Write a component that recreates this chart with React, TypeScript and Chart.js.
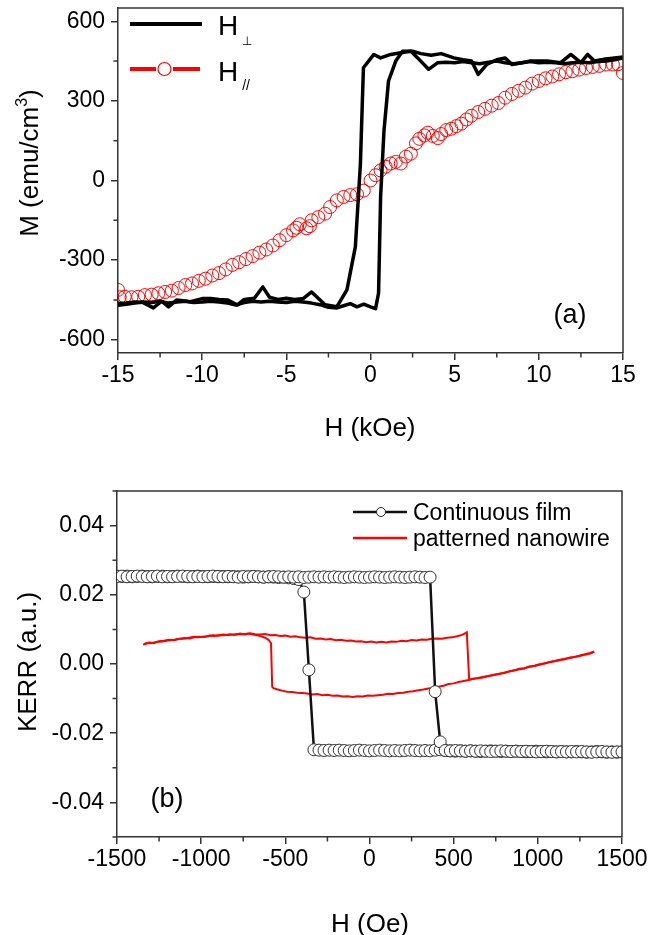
import React, { useEffect, useRef } from "react";
import { Chart, registerables } from "chart.js";

Chart.register(...registerables);

const FONT = '"Liberation Sans", Arial, Helvetica, sans-serif';
const AXIS = "#333";
const RED = "#ff0000";

// ---------- tick labels ----------
const topXTicks = [-15, -10, -5, 0, 5, 10, 15];
const topYTicks = [-600, -300, 0, 300, 600];
const botXTicks = [-1500, -1000, -500, 0, 500, 1000, 1500];
const botYTicks = [-0.04, -0.02, 0, 0.02, 0.04];

// ---------- (a) SQUID M-H loops ----------
const perpDownH = [15, 14.5, 14, 13.5, 13, 12.5, 12, 11.5, 11, 10.5,
  10, 9.5, 9, 8.5, 8, 7.5, 7, 6.5, 6, 5.5,
  5, 4.5, 4, 3.45, 2.8, 2.4, 1.8, 1.2, 0.6, 0.2,
  -0.42, -0.52, -0.6, -0.9, -1.4, -2.0, -2.7, -3.5, -4.0, -4.5,
  -5, -5.5, -6, -6.4, -6.9, -7.5, -7.9, -8.5, -9, -9.5,
  -10, -10.7, -11.5, -12, -12.4, -12.9, -13.5, -14, -14.5, -15];
const perpDownM = [462, 455, 450, 448, 444, 446, 444, 440, 444, 446,
  444, 448, 444, 440, 444, 450, 446, 440, 444, 448,
  444, 446, 444, 419, 462, 487, 481, 475, 462, 475,
  425, 225, 62, -250, -412, -476, -468, -420, -445, -448,
  -444, -448, -440, -401, -444, -448, -469, -450, -448, -445,
  -445, -457, -450, -476, -455, -480, -460, -458, -462, -463];

const perpUpH = [-15, -14.5, -14, -13.5, -13, -12.5, -12, -11.5, -11, -10.5,
  -10, -9.5, -9, -8.5, -8, -7.5, -7, -6.5, -6, -5.5,
  -5, -4.5, -4, -3.5, -3, -2.5, -2, -1.6, -1.2, -0.8,
  -0.4, 0, 0.3, 0.48, 0.6, 0.8, 1.07, 1.5, 1.9, 2.5,
  3.0, 3.6, 4.2, 4.95, 5.5, 6.0, 6.4, 6.9, 7.5, 8.0,
  8.4, 9.0, 9.5, 10.5, 11.3, 11.9, 12.5, 12.9, 13.3, 14.0,
  14.5, 15];
const perpUpM = [-470, -466, -462, -458, -460, -455, -462, -458, -455, -460,
  -458, -455, -458, -462, -469, -460, -455, -458, -455, -458,
  -460, -455, -458, -462, -468, -478, -480, -472, -464, -476,
  -466, -476, -483, -424, -62, 187, 375, 450, 487, 487,
  478, 472, 478, 462, 455, 450, 400, 437, 455, 462,
  437, 444, 450, 450, 444, 475, 444, 475, 450, 458,
  462, 465];

const parH = [-15, -14.9, -14.6, -14.2, -13.8, -13.4, -13.0, -12.6, -12.2, -11.8,
  -11.4, -11.0, -10.6, -10.2, -9.8, -9.4, -9.0, -8.6, -8.2, -7.8,
  -7.4, -7.0, -6.6, -6.2, -5.8, -5.4, -5.0, -4.6, -4.4, -4.2,
  -3.8, -3.6, -3.5, -3.1, -2.7, -2.4, -2.0, -1.6, -1.2, -0.8,
  -0.4, 0.0, 0.3, 0.6, 0.9, 1.2, 1.5, 1.8, 2.1, 2.4,
  2.7, 2.9, 3.2, 3.4, 3.7, 4.0, 4.2, 4.5, 4.8, 5.1,
  5.4, 5.7, 6.0, 6.4, 6.8, 7.2, 7.6, 8.0, 8.4, 8.8,
  9.2, 9.6, 10.0, 10.4, 10.8, 11.2, 11.6, 12.0, 12.4, 12.8,
  13.2, 13.6, 14.0, 14.4, 14.7, 15.0];
const parM = [-412, -440, -438, -440, -438, -432, -430, -425, -420, -415,
  -405, -394, -388, -378, -370, -358, -349, -335, -318, -308,
  -296, -285, -272, -260, -245, -225, -206, -188, -178, -165,
  -180, -172, -150, -138, -125, -100, -75, -62, -55, -52,
  -38, 0, 20, 38, 52, 64, 70, 64, 90, 101,
  140, 157, 170, 180, 168, 160, 175, 190, 195, 205,
  214, 230, 244, 258, 270, 282, 292, 312, 326, 338,
  350, 365, 375, 385, 392, 400, 408, 412, 418, 424,
  428, 432, 437, 437, 438, 405];

// ---------- (b) Kerr loops ----------
const filmH = [-1500, -1470, -1440, -1410, -1380, -1350, -1320, -1290, -1260, -1230,
  -1200, -1170, -1140, -1110, -1080, -1050, -1020, -990, -960, -930,
  -900, -870, -840, -810, -780, -750, -720, -690, -660, -630,
  -600, -570, -540, -510, -480, -450, -420, -390, -360, -330,
  -300, -270, -240, -210, -180, -150, -120, -90, -60, -30,
  0, 30, 60, 90, 120, 150, 180, 210, 240, 270,
  300, 330, 360, 390, 420, 450, 480, 510, 540, 570,
  600, 630, 660, 690, 720, 750, 780, 810, 840, 870,
  900, 930, 960, 990, 1020, 1050, 1080, 1110, 1140, 1170,
  1200, 1230, 1260, 1290, 1320, 1350, 1380, 1410, 1440, 1470,
  1500];
const filmUpK = [0.0253, 0.0254, 0.0252, 0.0253, 0.0254, 0.0253, 0.0252, 0.0253, 0.0254, 0.0252,
  0.0253, 0.0252, 0.0253, 0.0254, 0.0253, 0.0252, 0.0253, 0.0252, 0.0253, 0.0254,
  0.0253, 0.0252, 0.0253, 0.0252, 0.0251, 0.0253, 0.0252, 0.0253, 0.0252, 0.0251,
  0.0252, 0.0253, 0.0252, 0.0251, 0.0252, 0.0251, 0.0252, 0.0250, 0.0251, 0.0252,
  0.0251, 0.0252, 0.0251, 0.0252, 0.0251, 0.0250, 0.0251, 0.0252, 0.0251, 0.0250,
  0.0251, 0.0252, 0.0251, 0.0250, 0.0251, 0.0252, 0.0251, 0.0250, 0.0251, 0.0252,
  0.0251, 0.0250, 0.0251, -0.0080, -0.0225, -0.0250, -0.0251, -0.0250, -0.0251, -0.0252,
  -0.0251, -0.0252, -0.0251, -0.0252, -0.0253, -0.0252, -0.0251, -0.0252, -0.0253, -0.0252,
  -0.0253, -0.0252, -0.0253, -0.0254, -0.0253, -0.0252, -0.0253, -0.0254, -0.0253, -0.0254,
  -0.0253, -0.0254, -0.0253, -0.0254, -0.0255, -0.0254, -0.0253, -0.0254, -0.0255, -0.0254,
  -0.0254];
const filmDownK = [0.0254, 0.0253, 0.0254, 0.0252, 0.0253, 0.0254, 0.0253, 0.0252, 0.0253, 0.0254,
  0.0252, 0.0253, 0.0254, 0.0253, 0.0252, 0.0253, 0.0254, 0.0253, 0.0252, 0.0253,
  0.0252, 0.0253, 0.0252, 0.0253, 0.0252, 0.0251, 0.0252, 0.0253, 0.0252, 0.0251,
  0.0252, 0.0251, 0.0250, 0.0251, 0.0249, 0.0247, 0.0244, 0.0208, -0.0017, -0.0248,
  -0.0249, -0.0250, -0.0249, -0.0250, -0.0249, -0.0250, -0.0251, -0.0250, -0.0249, -0.0250,
  -0.0251, -0.0250, -0.0249, -0.0250, -0.0251, -0.0250, -0.0251, -0.0250, -0.0249, -0.0250,
  -0.0251, -0.0250, -0.0251, -0.0249, -0.0248, -0.0250, -0.0251, -0.0252, -0.0251, -0.0252,
  -0.0251, -0.0252, -0.0253, -0.0252, -0.0251, -0.0252, -0.0253, -0.0252, -0.0253, -0.0252,
  -0.0253, -0.0254, -0.0253, -0.0252, -0.0253, -0.0254, -0.0253, -0.0254, -0.0253, -0.0254,
  -0.0254, -0.0253, -0.0254, -0.0255, -0.0254, -0.0253, -0.0254, -0.0255, -0.0254, -0.0255,
  -0.0254];

const wireUpH = [-1340, -1310, -1280, -1250, -1220, -1190, -1160, -1130, -1100, -1070,
  -1040, -1010, -980, -950, -920, -890, -860, -830, -800, -770,
  -740, -710, -680, -650, -620, -590, -560, -530, -500, -470,
  -440, -410, -380, -350, -320, -290, -260, -230, -200, -170,
  -140, -110, -80, -50, -20, 10, 40, 70, 100, 130,
  160, 190, 220, 250, 280, 310, 340, 370, 400, 430,
  460, 490, 520, 550, 565, 578, 592, 620, 650, 680,
  710, 740, 770, 800, 830, 860, 890, 920, 950, 980,
  1010, 1040, 1070, 1100, 1130, 1160, 1190, 1220, 1250, 1280,
  1310, 1335];
const wireUpK = [0.0058, 0.0062, 0.0061, 0.0066, 0.0067, 0.0070, 0.0069, 0.0073, 0.0075, 0.0074,
  0.0078, 0.0079, 0.0078, 0.0082, 0.0081, 0.0084, 0.0083, 0.0086, 0.0084, 0.0088,
  0.0085, 0.0089, 0.0086, 0.0085, 0.0087, 0.0083, 0.0084, 0.0081, 0.0082, 0.0079,
  0.0080, 0.0077, 0.0076, 0.0077, 0.0073, 0.0074, 0.0071, 0.0072, 0.0069, 0.0070,
  0.0067, 0.0068, 0.0065, 0.0066, 0.0063, 0.0065, 0.0062, 0.0064, 0.0062, 0.0065,
  0.0064, 0.0067, 0.0066, 0.0069, 0.0068, 0.0071, 0.0070, 0.0073, 0.0074, 0.0073,
  0.0076, 0.0077, 0.0080, 0.0084, 0.0088, 0.0092, -0.0045, -0.0043, -0.0040, -0.0038,
  -0.0034, -0.0032, -0.0028, -0.0026, -0.0021, -0.0019, -0.0014, -0.0012, -0.0008, -0.0005,
  -0.0001, 0.0002, 0.0005, 0.0009, 0.0011, 0.0015, 0.0017, 0.0021, 0.0023, 0.0027,
  0.0030, 0.0035];

const wireDownH = [1335, 1310, 1280, 1250, 1220, 1190, 1160, 1130, 1100, 1070,
  1040, 1010, 980, 950, 920, 890, 860, 830, 800, 770,
  740, 710, 680, 650, 620, 590, 560, 530, 500, 470,
  440, 410, 380, 350, 320, 290, 260, 230, 200, 170,
  140, 110, 80, 50, 20, -10, -40, -70, -100, -130,
  -160, -190, -220, -250, -280, -310, -340, -370, -400, -430,
  -460, -490, -520, -550, -570, -578, -585, -600, -620, -640,
  -660, -690, -720, -750, -780, -810, -840, -870, -900, -930,
  -960, -990, -1020, -1050, -1080, -1110, -1140, -1170, -1200, -1230,
  -1260, -1290, -1320, -1345];
const wireDownK = [0.0036, 0.0032, 0.0028, 0.0025, 0.0020, 0.0019, 0.0014, 0.0012, 0.0008, 0.0006,
  0.0001, -0.0002, -0.0006, -0.0007, -0.0013, -0.0015, -0.0018, -0.0022, -0.0025, -0.0029,
  -0.0031, -0.0035, -0.0037, -0.0041, -0.0042, -0.0046, -0.0049, -0.0052, -0.0056, -0.0058,
  -0.0063, -0.0066, -0.0069, -0.0071, -0.0074, -0.0076, -0.0079, -0.0080, -0.0083, -0.0084,
  -0.0087, -0.0086, -0.0089, -0.0090, -0.0092, -0.0091, -0.0094, -0.0093, -0.0095, -0.0093,
  -0.0094, -0.0091, -0.0092, -0.0089, -0.0090, -0.0087, -0.0088, -0.0085, -0.0084, -0.0083,
  -0.0081, -0.0080, -0.0077, -0.0073, -0.0070, -0.0066, 0.0060, 0.0070, 0.0076, 0.0079,
  0.0082, 0.0085, 0.0088, 0.0086, 0.0087, 0.0085, 0.0084, 0.0085, 0.0082, 0.0083,
  0.0080, 0.0079, 0.0077, 0.0078, 0.0075, 0.0073, 0.0072, 0.0069, 0.0068, 0.0065,
  0.0064, 0.0061, 0.0060, 0.0056];

const pts = (xs: number[], ys: number[]) => xs.map((x, i) => ({ x, y: ys[i] }));

type Part = { t: string; s: number; dx?: number; dy?: number };

function drawParts(ctx: CanvasRenderingContext2D, parts: Part[], cx: number, cy: number, rot = 0, align = "center") {
  ctx.save();
  ctx.translate(cx, cy);
  ctx.rotate(rot);
  ctx.fillStyle = "#000";
  ctx.textAlign = "left";
  ctx.textBaseline = "alphabetic";
  const ws = parts.map((p) => {
    ctx.font = `${p.s}px ${FONT}`;
    return ctx.measureText(p.t).width + (p.dx || 0);
  });
  const total = ws.reduce((a, b) => a + b, 0);
  let x = align === "left" ? 0 : -total / 2;
  const base = 0.36 * parts[0].s;
  parts.forEach((p, i) => {
    ctx.font = `${p.s}px ${FONT}`;
    ctx.fillText(p.t, x + (p.dx || 0), base + (p.dy || 0));
    x += ws[i];
  });
  ctx.restore();
}

function makeDecor(o: { xMajor: number; xMinor: number; yMajor: number; yMinor: number; draw: (ctx: CanvasRenderingContext2D) => void }) {
  return {
    id: "decor",
    afterDraw(chart: any) {
      const { ctx, chartArea: a, scales } = chart;
      const xs = scales.x, ys = scales.y;
      ctx.save();
      ctx.strokeStyle = AXIS;
      ctx.lineWidth = 1.5;
      ctx.beginPath();
      ctx.moveTo(a.left, a.top);
      ctx.lineTo(a.right, a.top);
      ctx.lineTo(a.right, a.bottom);
      ctx.stroke();
      ctx.beginPath();
      const x0 = Math.ceil(xs.min / o.xMinor - 1e-9);
      const x1 = Math.floor(xs.max / o.xMinor + 1e-9);
      for (let i = x0; i <= x1; i++) {
        const v = i * o.xMinor;
        const k = v / o.xMajor;
        if (Math.abs(k - Math.round(k)) < 1e-6) continue;
        const px = xs.getPixelForValue(v);
        ctx.moveTo(px, a.bottom);
        ctx.lineTo(px, a.bottom + 4.5);
      }
      const y0 = Math.ceil(ys.min / o.yMinor - 1e-9);
      const y1 = Math.floor(ys.max / o.yMinor + 1e-9);
      for (let i = y0; i <= y1; i++) {
        const v = i * o.yMinor;
        const k = v / o.yMajor;
        if (Math.abs(k - Math.round(k)) < 1e-6) continue;
        const py = ys.getPixelForValue(v);
        ctx.moveTo(a.left, py);
        ctx.lineTo(a.left - 4.5, py);
      }
      ctx.stroke();
      ctx.restore();
      o.draw(ctx);
    },
  };
}

function axisBase(tickValues: number[], extra: any) {
  return {
    type: "linear",
    grid: { display: true, drawOnChartArea: false, drawTicks: true, tickLength: 7, color: AXIS, lineWidth: 1.5 },
    border: { display: true, color: AXIS, width: 1.5 },
    afterBuildTicks: (s: any) => { s.ticks = tickValues.map((value) => ({ value })); },
    ...extra,
  };
}

function topConfig(): any {
  const decor = makeDecor({
    xMajor: 5, xMinor: 2.5, yMajor: 300, yMinor: 150,
    draw: (ctx) => {
      ctx.save();
      ctx.lineCap = "butt";
      ctx.strokeStyle = "#000";
      ctx.lineWidth = 4;
      ctx.beginPath(); ctx.moveTo(130, 24); ctx.lineTo(202, 24); ctx.stroke();
      ctx.strokeStyle = RED;
      ctx.beginPath(); ctx.moveTo(130, 69); ctx.lineTo(156, 69); ctx.moveTo(173, 69); ctx.lineTo(200, 69); ctx.stroke();
      ctx.lineWidth = 1.2;
      ctx.beginPath(); ctx.arc(164.5, 69, 6.5, 0, Math.PI * 2); ctx.stroke();
      ctx.restore();
      drawParts(ctx, [{ t: "H", s: 28 }, { t: "\u22A5", s: 12, dx: 4, dy: 10 }], 218, 25, 0, "left");
      drawParts(ctx, [{ t: "H", s: 28 }, { t: "//", s: 14, dx: 4, dy: 9 }], 218, 71, 0, "left");
      drawParts(ctx, [{ t: "(a)", s: 27 }], 570, 313);
      drawParts(ctx, [{ t: "H (kOe)", s: 26 }], 370, 427);
      drawParts(ctx, [{ t: "M (emu/cm", s: 26 }, { t: "3", s: 16, dy: -11 }, { t: ")", s: 26 }], 29, 163, -Math.PI / 2);
    },
  });
  return {
    type: "scatter",
    data: {
      datasets: [
        { label: "H\u22A5 desc", data: pts(perpDownH, perpDownM), showLine: true, borderColor: "#000", borderWidth: 3.5, pointRadius: 0, borderJoinStyle: "round", clip: 0 },
        { label: "H\u22A5 asc", data: pts(perpUpH, perpUpM), showLine: true, borderColor: "#000", borderWidth: 3.5, pointRadius: 0, borderJoinStyle: "round", clip: 0 },
        { label: "H//", data: pts(parH, parM), showLine: false, pointRadius: 6.5, pointBorderWidth: 1, pointBorderColor: RED, pointBackgroundColor: "rgba(0,0,0,0)", borderColor: RED, clip: 0 },
      ],
    },
    options: {
      animation: false,
      responsive: false,
      maintainAspectRatio: false,
      devicePixelRatio: 1,
      events: [],
      layout: { padding: { left: 0, right: 26, top: 8, bottom: 0 } },
      plugins: { legend: { display: false }, tooltip: { enabled: false } },
      scales: {
        x: axisBase(topXTicks, {
          min: -15, max: 15,
          ticks: { color: "#000", padding: 2, font: { family: FONT, size: 23 }, maxRotation: 0, autoSkip: false, callback: (v: number) => String(v) },
          afterFit: (s: any) => { s.height = 97; s.paddingLeft = 0; s.paddingRight = 0; },
        }),
        y: axisBase(topYTicks, {
          min: -650, max: 650,
          ticks: { color: "#000", padding: 6, font: { family: FONT, size: 23 }, callback: (v: number) => String(v) },
          afterFit: (s: any) => { s.width = 118; s.paddingTop = 0; s.paddingBottom = 0; },
        }),
      },
    },
    plugins: [decor],
  };
}

function bottomConfig(): any {
  const decor = makeDecor({
    xMajor: 500, xMinor: 250, yMajor: 0.02, yMinor: 0.01,
    draw: (ctx) => {
      ctx.save();
      ctx.lineWidth = 2.5;
      ctx.strokeStyle = "#111";
      ctx.beginPath(); ctx.moveTo(353, 62); ctx.lineTo(407, 62); ctx.stroke();
      ctx.fillStyle = "#fff";
      ctx.strokeStyle = "#222";
      ctx.lineWidth = 1;
      ctx.beginPath(); ctx.arc(381, 62, 4.5, 0, Math.PI * 2); ctx.fill(); ctx.stroke();
      ctx.strokeStyle = RED;
      ctx.lineWidth = 2.5;
      ctx.beginPath(); ctx.moveTo(353, 88); ctx.lineTo(407, 88); ctx.stroke();
      ctx.restore();
      drawParts(ctx, [{ t: "Continuous film", s: 23 }], 413, 62, 0, "left");
      drawParts(ctx, [{ t: "patterned nanowire", s: 23 }], 413, 88, 0, "left");
      drawParts(ctx, [{ t: "(b)", s: 27 }], 167, 347);
      drawParts(ctx, [{ t: "H (Oe)", s: 26 }], 370, 473);
      drawParts(ctx, [{ t: "KERR (a.u.)", s: 26 }], 27, 212, -Math.PI / 2);
    },
  });
  const film = { showLine: true, borderColor: "#111", borderWidth: 2.5, pointRadius: 6, pointBorderWidth: 1, pointBorderColor: "#333", pointBackgroundColor: "#fff", clip: 0 };
  const wire = { showLine: true, borderColor: RED, borderWidth: 2, pointRadius: 0, clip: 0 };
  return {
    type: "scatter",
    data: {
      datasets: [
        { label: "Continuous film (up)", data: pts(filmH, filmUpK), ...film },
        { label: "Continuous film (down)", data: pts(filmH, filmDownK), ...film },
        { label: "patterned nanowire (up)", data: pts(wireUpH, wireUpK), ...wire },
        { label: "patterned nanowire (down)", data: pts(wireDownH, wireDownK), ...wire },
      ],
    },
    options: {
      animation: false,
      responsive: false,
      maintainAspectRatio: false,
      devicePixelRatio: 1,
      events: [],
      layout: { padding: { left: 0, right: 27, top: 41, bottom: 0 } },
      plugins: { legend: { display: false }, tooltip: { enabled: false } },
      scales: {
        x: axisBase(botXTicks, {
          min: -1500, max: 1500,
          ticks: { color: "#000", padding: 2, font: { family: FONT, size: 23 }, maxRotation: 0, autoSkip: false, callback: (v: number) => String(v) },
          afterFit: (s: any) => { s.height = 98; s.paddingLeft = 0; s.paddingRight = 0; },
        }),
        y: axisBase(botYTicks, {
          min: -0.05, max: 0.05,
          ticks: { color: "#000", padding: 6, font: { family: FONT, size: 23 }, callback: (v: number) => (Math.abs(v) < 1e-9 ? "0.00" : Number(v).toFixed(2)) },
          afterFit: (s: any) => { s.width = 117; s.paddingTop = 0; s.paddingBottom = 0; },
        }),
      },
    },
    plugins: [decor],
  };
}

export default function App() {
  const topRef = useRef<HTMLCanvasElement | null>(null);
  const botRef = useRef<HTMLCanvasElement | null>(null);
  useEffect(() => {
    const c1 = new Chart(topRef.current as HTMLCanvasElement, topConfig());
    const c2 = new Chart(botRef.current as HTMLCanvasElement, bottomConfig());
    return () => {
      c1.destroy();
      c2.destroy();
    };
  }, []);
  return (
    <div style={{ position: "absolute", left: 0, top: 0, width: 649, height: 935, background: "#fff" }}>
      <canvas ref={topRef} width={649} height={450} style={{ position: "absolute", left: 0, top: 0, width: 649, height: 450 }} />
      <canvas ref={botRef} width={649} height={485} style={{ position: "absolute", left: 0, top: 450, width: 649, height: 485 }} />
    </div>
  );
}
